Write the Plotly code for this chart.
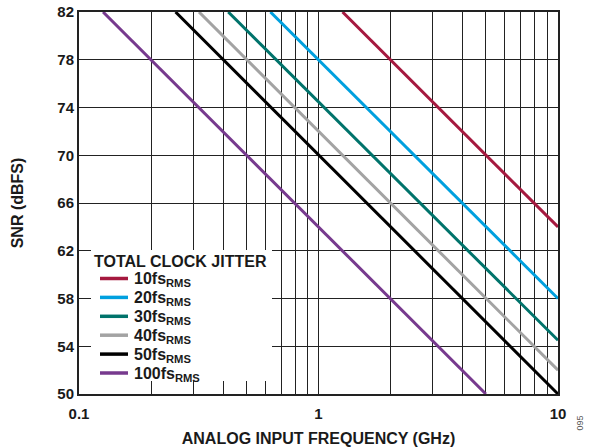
import plotly.graph_objects as go

# Endpoints of each jitter curve (GHz, dBFS)
JITTER_LABELS = ["10fs", "20fs", "30fs", "40fs", "50fs", "100fs"]
FREQ_START = [1.26, 0.63, 0.42, 0.317, 0.253, 0.126]
FREQ_END = [10, 10, 10, 10, 10, 5.0]
SNR_START = [82, 82, 82, 82, 82, 82]
SNR_END = [64, 58, 54.5, 52, 50, 50]
COLORS = ["#A5193F", "#00A0DF", "#00736B", "#A3A3A3", "#000000", "#773A8E"]

X_GRID = [0.1, 0.2, 0.3, 0.4, 0.5, 0.6, 0.7, 0.8, 0.9,
          1, 2, 3, 4, 5, 6, 7, 8, 9, 10]
X_LABELS = {0.1: "0.1", 1: "1", 10: "10"}
Y_TICKS = [50, 54, 58, 62, 66, 70, 74, 78, 82]

FONT = "Liberation Sans, Arial, sans-serif"
W, H = 600, 447
L, T = 79, 12
PW, PH = 479, 382
R, B = W - L - PW, H - T - PH


def px(x):
    # page pixel -> paper fraction
    return (x - L) / PW


def py(y):
    return (T + PH - y) / PH


fig = go.Figure()
for i, name in enumerate(JITTER_LABELS):
    fig.add_trace(go.Scatter(
        x=[FREQ_START[i], FREQ_END[i]],
        y=[SNR_START[i], SNR_END[i]],
        mode="lines",
        line=dict(color=COLORS[i], width=3),
        name=name,
        showlegend=False,
    ))

axis_style = dict(
    showgrid=True,
    gridcolor="#222",
    gridwidth=1.3,
    showline=True,
    linecolor="#222",
    linewidth=2,
    mirror=True,
    ticks="",
    automargin=False,
    tickfont=dict(size=15, family=FONT, color="#1a1a1a"),
)

fig.update_layout(
    width=W,
    height=H,
    margin=dict(l=L, r=R, t=T, b=B),
    plot_bgcolor="white",
    paper_bgcolor="white",
    font=dict(family=FONT, size=15, color="#1a1a1a"),
    showlegend=False,
    xaxis=dict(
        type="log",
        range=[-1, 1],
        tickvals=X_GRID,
        ticktext=[f"<b>{X_LABELS[v]}</b>" if v in X_LABELS else "" for v in X_GRID],
        ticklabelstandoff=5,
        title=dict(text="<b>ANALOG INPUT FREQUENCY (GHz)</b>", standoff=14,
                   font=dict(size=16)),
        **axis_style,
    ),
    yaxis=dict(
        range=[50, 82],
        tickvals=Y_TICKS,
        ticktext=[f"<b>{v}</b>" for v in Y_TICKS],
        zeroline=False,
        title=dict(text="<b>SNR (dBFS)</b>", standoff=30, font=dict(size=16)),
        **axis_style,
    ),
)

# hand-built legend box so the row spacing matches the original
fig.add_shape(type="rect", xref="paper", yref="paper",
              x0=px(91), x1=px(272), y0=py(381), y1=py(250),
              fillcolor="white", line=dict(width=0), layer="above")
fig.add_annotation(text="<b>TOTAL CLOCK JITTER</b>", xref="paper", yref="paper",
                   x=px(92), y=py(261), xanchor="left", yanchor="middle",
                   showarrow=False, font=dict(size=16))
for i, name in enumerate(JITTER_LABELS):
    yc = 278.5 + 18.9 * i
    fig.add_shape(type="line", xref="paper", yref="paper",
                  x0=px(100), x1=px(128), y0=py(yc), y1=py(yc),
                  line=dict(color=COLORS[i], width=3.5), layer="above")
    fig.add_annotation(text=f"<b>{name}<sub>RMS</sub></b>", xref="paper", yref="paper",
                       x=px(132), y=py(yc + 1), xanchor="left", yanchor="middle",
                       showarrow=False, font=dict(size=16))

fig.add_annotation(
    text="095", xref="paper", yref="paper", x=px(586), y=py(433),
    showarrow=False, textangle=-90, font=dict(size=9, color="#555"),
)

# drop the default 8px page margin so the figure sits at the window corner
fig.write_html("out.html", config={"displayModeBar": False},
               post_script="document.body.style.margin='0';")
